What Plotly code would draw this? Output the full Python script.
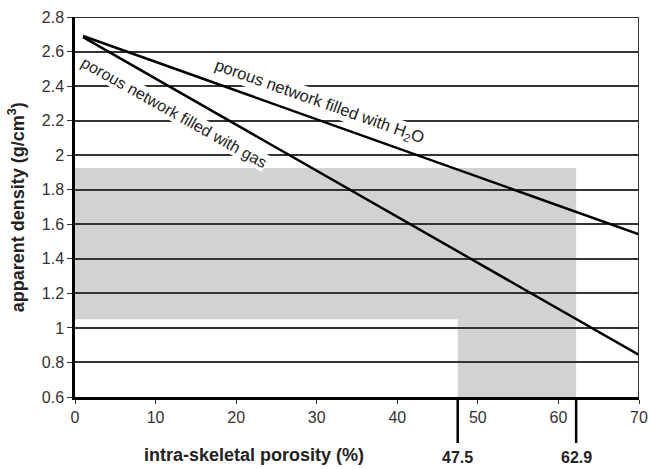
import plotly.graph_objects as go

# data
porosity_h2o = [1.0, 70]
density_h2o = [2.69, 1.542]
porosity_gas = [1.0, 70]
density_gas = [2.684, 0.843]

shade_x = [0, 0, 62.2, 62.2, 47.5, 47.5]
shade_y = [1.05, 1.926, 1.926, 0.6, 0.6, 1.05]

marker_pos = [47.5, 62.2]
marker_labels = ["47.5", "62.9"]

x_ticks = [0, 10, 20, 30, 40, 50, 60, 70]
y_ticks = [0.6, 0.8, 1.0, 1.2, 1.4, 1.6, 1.8, 2.0, 2.2, 2.4, 2.6, 2.8]
y_ticklabels = ["0.6", "0.8", "1", "1.2", "1.4", "1.6", "1.8", "2", "2.2", "2.4", "2.6", "2.8"]

FONT = "Liberation Sans, Arial, sans-serif"

fig = go.Figure()

fig.add_trace(go.Scatter(x=porosity_h2o, y=density_h2o, mode="lines",
                         line=dict(color="black", width=2.5), showlegend=False))
fig.add_trace(go.Scatter(x=porosity_gas, y=density_gas, mode="lines",
                         line=dict(color="black", width=2.5), showlegend=False))

path = "M " + " L ".join(f"{x},{y}" for x, y in zip(shade_x, shade_y)) + " Z"
fig.add_shape(type="path", path=path, xref="x", yref="y",
              fillcolor="#d2d2d2", line=dict(width=0), layer="below")

# right and top border
fig.add_shape(type="line", xref="x", yref="y", x0=70, x1=70, y0=0.6, y1=2.8,
              line=dict(color="#333", width=2))
fig.add_shape(type="line", xref="x", yref="y", x0=0, x1=70, y0=2.8, y1=2.8,
              line=dict(color="#333", width=2))

for pos, lab in zip(marker_pos, marker_labels):
    fig.add_shape(type="line", xref="x", yref="paper", x0=pos, x1=pos,
                  y0=-0.008, y1=-0.121, line=dict(color="black", width=2.5))
    fig.add_annotation(x=pos, y=-0.158, xref="x", yref="paper", text=f"<b>{lab}</b>",
                       showarrow=False, font=dict(size=16, color="#222", family=FONT),
                       xanchor="center", yanchor="middle")

fig.add_annotation(x=12.3, y=2.246, xref="x", yref="y",
                   text="porous network filled with gas", showarrow=False,
                   textangle=29.3, bgcolor="white", borderpad=0,
                   font=dict(size=16, color="#222", family=FONT))
fig.add_annotation(x=30.4, y=2.31, xref="x", yref="y",
                   text="porous network filled with H<sub>2</sub>O", showarrow=False,
                   textangle=19.6, bgcolor="white", borderpad=0,
                   font=dict(size=16.5, color="#222", family=FONT))

fig.add_annotation(x=0.317, y=-0.153, xref="paper", yref="paper",
                   text="<b>intra-skeletal porosity (%)</b>", showarrow=False,
                   font=dict(size=18, color="#222", family=FONT),
                   xanchor="center", yanchor="middle")
fig.add_annotation(x=-0.104, y=0.5, xref="paper", yref="paper",
                   text="<b>apparent density (g/cm<sup>3</sup>)</b>", showarrow=False,
                   textangle=-90, font=dict(size=18, color="#222", family=FONT),
                   xanchor="center", yanchor="middle")

fig.update_layout(
    width=648, height=469,
    margin=dict(l=75, r=9, t=17, b=72),
    plot_bgcolor="white", paper_bgcolor="white",
    font=dict(family=FONT, size=16, color="#333"),
    xaxis=dict(range=[0, 70], tickvals=x_ticks, showgrid=False, zeroline=False,
               showline=True, linecolor="black", linewidth=2.5, automargin=False,
               ticks="outside", ticklen=4, tickcolor="#333", tickwidth=1,
               tickfont=dict(size=16, color="#333")),
    yaxis=dict(range=[0.6, 2.8], tickvals=y_ticks, ticktext=y_ticklabels,
               showgrid=True, gridcolor="#333", gridwidth=1.5, zeroline=False,
               showline=True, linecolor="black", linewidth=2.5, automargin=False,
               ticks="outside", ticklen=5, tickcolor="#333", tickwidth=1,
               tickfont=dict(size=16, color="#333")),
)

fig.write_html("out.html", config={"displayModeBar": False},
               post_script="document.body.style.margin='0';")
